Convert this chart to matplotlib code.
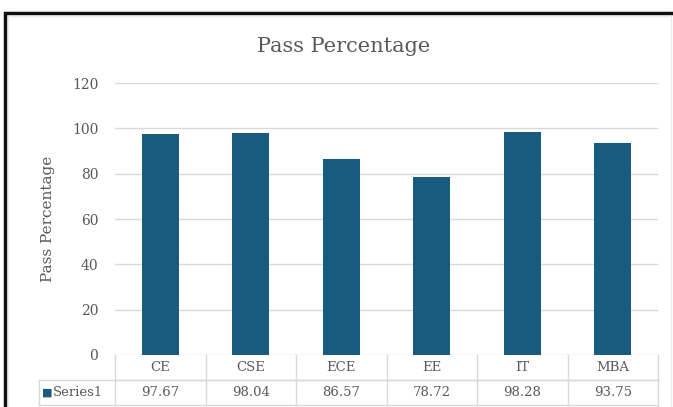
import matplotlib.pyplot as plt
from matplotlib.patches import Rectangle
from matplotlib.transforms import blended_transform_factory

# data
categories = ['CE', 'CSE', 'ECE', 'EE', 'IT', 'MBA']
pass_pct = [97.67, 98.04, 86.57, 78.72, 98.28, 93.75]
series_name = 'Series1'
y_ticks = [0, 20, 40, 60, 80, 100, 120]

W, H = 673, 407
bar_color = '#185b7e'
text_gray = '#595959'
grid_gray = '#d9d9d9'

plt.rcParams['font.family'] = ['DejaVu Serif']

fig = plt.figure(figsize=(W / 100, H / 100), dpi=100)
fig.patch.set_facecolor('white')

# plot area in pixels
left, right, top, bottom = 115, 658, 83, 355
ax = fig.add_axes([left / W, 1 - bottom / H, (right - left) / W, (bottom - top) / H])

x = list(range(len(categories)))
ax.bar(x, pass_pct, width=0.41, color=bar_color, zorder=3)
ax.set_xlim(-0.5, len(categories) - 0.5)
ax.set_ylim(0, 120)
ax.set_yticks(y_ticks)
ax.set_yticklabels([str(t) for t in y_ticks], color=text_gray, fontsize=10)
ax.set_xticks([])
ax.tick_params(axis='y', length=0, pad=12)
ax.grid(axis='y', color=grid_gray, linewidth=1, zorder=0)
for s in ax.spines.values():
    s.set_visible(False)
ax.set_ylabel('Pass Percentage', color=text_gray, fontsize=11, labelpad=12)

fig.text((W / 2 + 7) / W, 1 - 46 / H, 'Pass Percentage', ha='center', va='center',
         color=text_gray, fontsize=15)

# data table underneath (x in data units, y in axes fraction)
tr = blended_transform_factory(ax.transData, ax.transAxes)
ah = bottom - top
row_h = 25 / ah
lab_left = -0.5 - (left - 39) / ((right - left) / len(categories))
line_kw = dict(color=grid_gray, linewidth=1, transform=tr, clip_on=False, zorder=1)

ax.plot([-0.5, len(categories) - 0.5], [-row_h, -row_h], **line_kw)
ax.plot([lab_left, len(categories) - 0.5], [-row_h, -row_h], **line_kw)
ax.plot([lab_left, len(categories) - 0.5], [-2 * row_h, -2 * row_h], **line_kw)
ax.plot([lab_left, lab_left], [-row_h, -2 * row_h], **line_kw)
for i in range(len(categories) + 1):
    ax.plot([i - 0.5, i - 0.5], [0, -2 * row_h], **line_kw)

for i, (cat, val) in enumerate(zip(categories, pass_pct)):
    ax.text(i, -0.5 * row_h, cat, transform=tr, ha='center', va='center',
            color=text_gray, fontsize=9.5)
    ax.text(i, -1.5 * row_h, f'{val:.2f}', transform=tr, ha='center', va='center',
            color=text_gray, fontsize=9.5)

ax.text(lab_left + 0.09, -1.5 * row_h, '\u25a0', transform=tr, ha='center', va='center',
        color=bar_color, fontsize=8)
ax.text(lab_left + 0.15, -1.5 * row_h, series_name, transform=tr, ha='left', va='center',
        color=text_gray, fontsize=9.5)

# outer frame of the screenshot
fig.add_artist(Rectangle((5 / W, -0.05), 1.2, 1.05 - 12.5 / H, transform=fig.transFigure,
                         facecolor='none', edgecolor='#111111', linewidth=2.5))
fig.add_artist(Rectangle((8 / W, -0.05), (671 - 8) / W, 1.05 - 16 / H, transform=fig.transFigure,
                         facecolor='none', edgecolor='#eeeeee', linewidth=1))

fig.savefig('out.png', dpi=100, facecolor='white')
